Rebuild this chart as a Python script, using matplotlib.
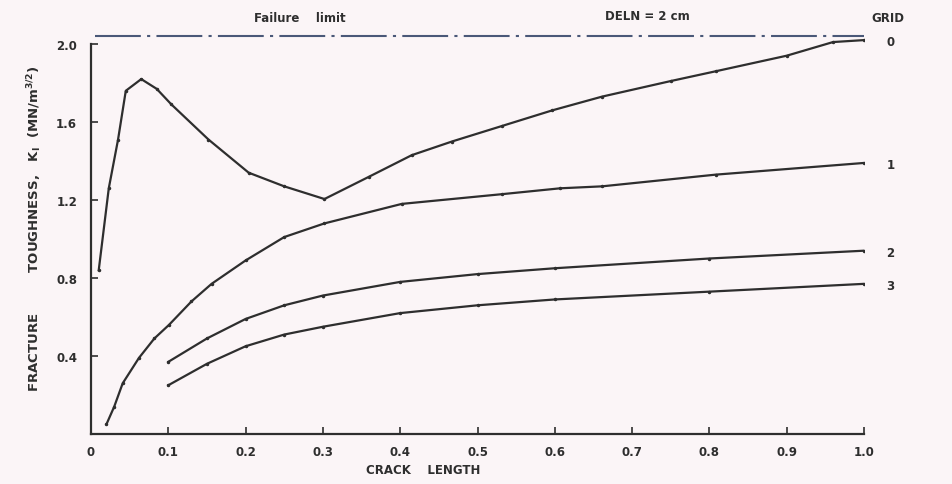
import matplotlib
matplotlib.use('Agg')
import matplotlib.pyplot as plt

# ── data ─────────────────────────────────────────────────────────────────────
grid0_x = [0.01, 0.023, 0.035, 0.045, 0.065, 0.085, 0.104, 0.152, 0.204, 0.25, 0.302,
           0.36, 0.415, 0.467, 0.532, 0.597, 0.661, 0.75, 0.808, 0.9, 0.96, 1.0]
grid0_y = [0.84, 1.26, 1.51, 1.76, 1.82, 1.77, 1.69, 1.51, 1.34, 1.27, 1.205,
           1.32, 1.43, 1.50, 1.58, 1.66, 1.73, 1.81, 1.86, 1.94, 2.01, 2.02]

grid1_x = [0.02, 0.03, 0.041, 0.062, 0.082, 0.101, 0.13, 0.156, 0.2, 0.25, 0.302,
           0.402, 0.532, 0.607, 0.661, 0.808, 1.0]
grid1_y = [0.05, 0.14, 0.26, 0.39, 0.49, 0.56, 0.68, 0.77, 0.89, 1.01, 1.08,
           1.18, 1.23, 1.26, 1.27, 1.33, 1.39]

grid2_x = [0.1, 0.15, 0.2, 0.25, 0.3, 0.4, 0.5, 0.6, 0.8, 1.0]
grid2_y = [0.37, 0.49, 0.59, 0.66, 0.71, 0.78, 0.82, 0.85, 0.90, 0.94]

grid3_x = [0.1, 0.15, 0.2, 0.25, 0.3, 0.4, 0.5, 0.6, 0.8, 1.0]
grid3_y = [0.25, 0.36, 0.45, 0.51, 0.55, 0.62, 0.66, 0.69, 0.73, 0.77]

grid_names = ['0', '1', '2', '3']
failure_limit = 2.04

x_ticks = [0, 0.1, 0.2, 0.3, 0.4, 0.5, 0.6, 0.7, 0.8, 0.9, 1.0]
x_ticklabels = ['0', '0.1', '0.2', '0.3', '0.4', '0.5', '0.6', '0.7', '0.8', '0.9', '1.0']
y_ticks = [0.4, 0.8, 1.2, 1.6, 2.0]
y_ticklabels = ['0.4', '0.8', '1.2', '1.6', '2.0']

# ── plot ──────────────────────────────────────────────────────────────────────
BG = '#fbf5f7'
INK = '#2e2e2e'
plt.rcParams.update({'font.family': 'DejaVu Sans', 'font.weight': 'bold',
                     'mathtext.default': 'bf'})

fig = plt.figure(figsize=(9.52, 4.85), dpi=100, facecolor=BG)
ax = fig.add_axes([91 / 952, 50 / 485, (864 - 91) / 952, 2.12 * 195 / 485])
ax.set_facecolor(BG)

curves = [(grid0_x, grid0_y), (grid1_x, grid1_y), (grid2_x, grid2_y), (grid3_x, grid3_y)]
for (xs, ys), name in zip(curves, grid_names):
    ax.plot(xs, ys, '-', color=INK, lw=1.6, marker='.', ms=3, solid_joinstyle='round')
    ax.annotate(name, (xs[-1], ys[-1]), xytext=(19, -1), textcoords='offset points',
                fontsize=8.5, color=INK, va='center', ha='center')

ax.plot([0.005, 1.0], [failure_limit, failure_limit], color='#4a5878', lw=1.5,
        ls=(0, (22, 3, 1.5, 3)))

ax.set_xlim(0, 1.0)
ax.set_ylim(0, 2.12)
ax.spines['top'].set_visible(False)
ax.spines['right'].set_visible(False)
ax.spines['left'].set_bounds(0, 2.0)
for s in ('left', 'bottom'):
    ax.spines[s].set_color(INK)
    ax.spines[s].set_linewidth(1.6)

ax.set_xticks(x_ticks, x_ticklabels)
ax.set_yticks(y_ticks, y_ticklabels)
ax.tick_params(direction='in', length=5, width=1.2, colors=INK, labelsize=8.5, pad=8)
ax.tick_params(axis='y', pad=10)

ax.text(0.43, -0.085, 'CRACK    LENGTH', transform=ax.transAxes, ha='center',
        va='center', fontsize=8.5, color=INK)
ax.set_ylabel(r'FRACTURE         TOUGHNESS,   K$_\mathbf{I}$  (MN/m$^{3/2}$)',
              fontsize=9.5, fontweight='bold', color=INK, labelpad=9)

fig.text(300 / 952, 1 - 18 / 485, 'Failure    limit', ha='center', va='center',
         fontsize=8.5, color=INK)
fig.text(647 / 952, 1 - 17 / 485, 'DELN = 2 cm', ha='center', va='center',
         fontsize=8.5, color=INK)
fig.text(888 / 952, 1 - 19 / 485, 'GRID', ha='center', va='center',
         fontsize=8.5, color=INK)

fig.savefig('out.png', dpi=100, facecolor=BG)
